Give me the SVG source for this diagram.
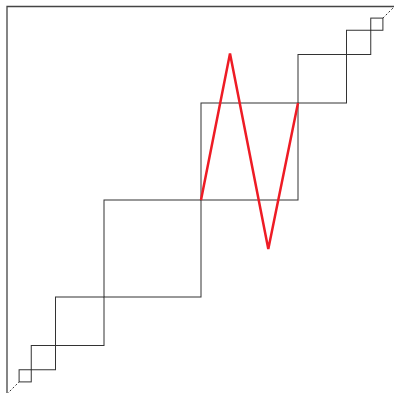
<svg xmlns="http://www.w3.org/2000/svg" width="394" height="393" viewBox="0 0 394 393">
<style>
.frame{fill:none;stroke:#444;stroke-width:1.3}
.sq{fill:none;stroke:#333;stroke-width:1}
.diag{fill:none;stroke:#333;stroke-width:1;stroke-dasharray:2,2}
.red{fill:none;stroke:#ee1c25;stroke-width:2.5;stroke-linejoin:miter}
</style>
<rect width="394" height="393" fill="#fff"/>
<g id="frame">
<path class="frame" d="M7,394 V6.5 H395"/>
</g>
<g id="squares">
<rect class="sq" x="19.1" y="369.75" width="12.15" height="12.15"/>
<rect class="sq" x="31.25" y="345.5" width="24.25" height="24.25"/>
<rect class="sq" x="55.5" y="297" width="48.5" height="48.5"/>
<rect class="sq" x="104" y="200" width="97" height="97"/>
<rect class="sq" x="201" y="103" width="97" height="97"/>
<rect class="sq" x="298" y="54.5" width="48.5" height="48.5"/>
<rect class="sq" x="346.5" y="30.25" width="24.25" height="24.25"/>
<rect class="sq" x="370.75" y="18.1" width="12.15" height="12.15"/>
</g>
<g id="connectors">
<path class="diag" d="M7,394 L19.1,381.9"/>
<path class="diag" d="M382.9,18.1 L395,6"/>
<path class="red" d="M201,200 L230,53.5 L268.3,249 L298,103"/>
</g>
</svg>
